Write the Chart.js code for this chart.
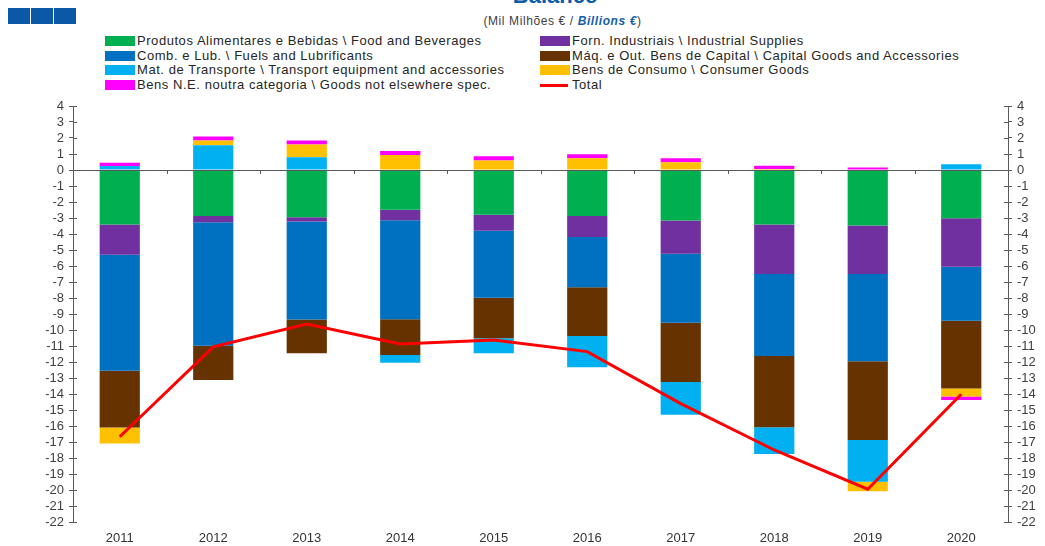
<!DOCTYPE html>
<html>
<head>
<meta charset="utf-8">
<script src="https://cdn.jsdelivr.net/npm/chart.js@4.4.0/dist/chart.umd.min.js"></script>
<style>
  body { margin: 0; width: 1045px; height: 546px; position: relative; overflow: hidden; background: #fff; font-family: 'Liberation Sans', Arial, sans-serif; }
  #chart { position: absolute; left: 0; top: 0; }
  .sq { position: absolute; top: 8px; width: 22px; height: 16px; background: #0b58a6; }
  #title { position: absolute; left: 0; width: 1110px; top: -15px; text-align: center; font-size: 22px; font-weight: bold; color: #0b5ca8; line-height: 22px; }
  #subtitle { position: absolute; left: 0; width: 1125px; top: 14px; text-align: center; font-size: 12px; color: #404040; letter-spacing: 0.6px; }
  #subtitle b { color: #1560a8; font-style: italic; }
  .lg { position: absolute; height: 14px; font-size: 13px; color: #262626; letter-spacing: 0.55px; white-space: nowrap; line-height: 14px; }
  .lg .sw { position: absolute; left: 0; top: 2px; width: 30px; height: 10px; }
  .lg .ln { position: absolute; left: 0; top: 6px; width: 28px; height: 3px; }
  .lg span { position: absolute; left: 32px; top: 0; }
</style>
</head>
<body>
<div class="sq" style="left:8px"></div>
<div class="sq" style="left:31px"></div>
<div class="sq" style="left:54px"></div>
<div id="title">Balance</div>
<div id="subtitle">(Mil Milhões € / <b>Billions €</b>)</div>
<div id="legend"></div>
<canvas id="chart" width="1045" height="546"></canvas>
<script>
// ================= Data =================
const years = ['2011', '2012', '2013', '2014', '2015', '2016', '2017', '2018', '2019', '2020'];
const food         = [-3.40, -2.88, -2.95, -2.48, -2.80, -2.88, -3.16, -3.41, -3.47, -3.01];
const industrial   = [-1.90, -0.38, -0.27, -0.66, -0.99, -1.31, -2.08, -3.09, -3.03, -3.03];
const fuels        = [-7.25, -7.72, -6.13, -6.19, -4.19, -3.14, -4.30, -5.12, -5.46, -3.38];
const capital      = [-3.55, -2.15, -2.11, -2.23, -2.54, -3.05, -3.71, -4.46, -4.92, -4.23];
const transport    = [0.25, 1.54, 0.80, -0.48, -0.94, -1.95, -2.04, -1.67, -2.60, 0.36];
const consumer     = [-1.00, 0.31, 0.80, 0.93, 0.59, 0.74, 0.48, 0.06, -0.60, -0.50];
const notElsewhere = [0.20, 0.25, 0.25, 0.25, 0.27, 0.25, 0.26, 0.21, 0.15, -0.23];
const total        = [-16.67, -11.05, -9.63, -10.88, -10.62, -11.35, -14.60, -17.50, -19.95, -14.02];

const seriesNames = [
  'Produtos Alimentares e Bebidas \\ Food and Beverages',
  'Forn. Industriais \\ Industrial Supplies',
  'Comb. e Lub. \\ Fuels and Lubrificants',
  'Máq. e Out. Bens de Capital \\ Capital Goods and Accessories',
  'Mat. de Transporte \\ Transport equipment and accessories',
  'Bens de Consumo \\ Consumer Goods',
  'Bens N.E. noutra categoria \\ Goods not elsewhere spec.',
  'Total'
];
const seriesColors = ['#00b050', '#7030a0', '#0070c0', '#663300', '#00b0f0', '#ffc000', '#ff00ff', '#ff0000'];
const barSeries = [food, industrial, fuels, capital, transport, consumer, notElsewhere];

// ================= Legend (2 columns) =================
const legendEl = document.getElementById('legend');
seriesNames.forEach((name, i) => {
  const item = document.createElement('div');
  item.className = 'lg';
  item.style.left = (i % 2 === 0 ? 105 : 540) + 'px';
  item.style.top = (34 + Math.floor(i / 2) * 14.6) + 'px';
  const mark = document.createElement('div');
  mark.className = i === 7 ? 'ln' : 'sw';
  mark.style.background = seriesColors[i];
  const txt = document.createElement('span');
  txt.textContent = name;
  item.appendChild(mark);
  item.appendChild(txt);
  legendEl.appendChild(item);
});

// ================= Axis marks =================
const axisColor = '#595959';
const axisMarks = {
  id: 'axisMarks',
  afterDatasetsDraw(chart) {
    const { ctx, scales: { x, y, y2 } } = chart;
    const y0 = y.getPixelForValue(0);
    ctx.save();
    ctx.strokeStyle = axisColor;
    ctx.lineWidth = 1;
    ctx.beginPath();
    // zero line
    ctx.moveTo(x.left, y0 + 0.5);
    ctx.lineTo(x.right, y0 + 0.5);
    // category boundary ticks on zero line
    for (let i = 0; i <= years.length; i++) {
      const px = Math.round(x.getPixelForValue(i - 0.5)) + 0.5;
      ctx.moveTo(px, y0);
      ctx.lineTo(px, y0 + 4);
    }
    // inner half of y ticks
    y.ticks.forEach(t => {
      const py = Math.round(y.getPixelForValue(t.value)) + 0.5;
      ctx.moveTo(y.right, py);
      ctx.lineTo(y.right + 4, py);
      ctx.moveTo(y2.left - 4, py);
      ctx.lineTo(y2.left, py);
    });
    ctx.stroke();
    ctx.restore();
  }
};

// ================= Chart =================
Chart.defaults.font.family = "'Liberation Sans', Arial, sans-serif";
Chart.defaults.font.size = 13;
Chart.defaults.color = '#404040';

const datasets = barSeries.map((vals, i) => ({
  type: 'bar',
  label: seriesNames[i],
  data: vals,
  backgroundColor: seriesColors[i],
  borderWidth: 0,
  barPercentage: 0.43,
  categoryPercentage: 1,
  stack: 'parts',
  order: 1
}));
datasets.push({
  type: 'line',
  label: seriesNames[7],
  data: total,
  borderColor: seriesColors[7],
  borderWidth: 3,
  pointRadius: 0,
  tension: 0,
  fill: false,
  stack: 'total',
  order: 0
});

const yTicks = {
  stepSize: 1,
  autoSkip: false,
  padding: 5,
  color: '#404040',
  font: { size: 13 }
};

new Chart(document.getElementById('chart'), {
  data: { labels: years, datasets },
  options: {
    responsive: false,
    animation: false,
    devicePixelRatio: 1,
    layout: { padding: { top: 106, left: 0, right: 0, bottom: 0 } },
    plugins: {
      legend: { display: false },
      tooltip: { enabled: false }
    },
    scales: {
      x: {
        stacked: true,
        offset: true,
        grid: { display: false, drawTicks: false },
        border: { display: false },
        ticks: { padding: 9, color: '#333', font: { size: 13 } },
        afterFit: s => { s.height = 24; }
      },
      y: {
        stacked: true,
        position: 'left',
        min: -22,
        max: 4,
        ticks: yTicks,
        grid: { drawOnChartArea: false, drawTicks: true, tickLength: 4, tickColor: axisColor },
        border: { display: true, color: axisColor },
        afterFit: s => { s.width = 73; }
      },
      y2: {
        position: 'right',
        min: -22,
        max: 4,
        ticks: yTicks,
        grid: { drawOnChartArea: false, drawTicks: true, tickLength: 4, tickColor: axisColor },
        border: { display: true, color: axisColor },
        afterFit: s => { s.width = 37; }
      }
    }
  },
  plugins: [axisMarks]
});
</script>
</body>
</html>
